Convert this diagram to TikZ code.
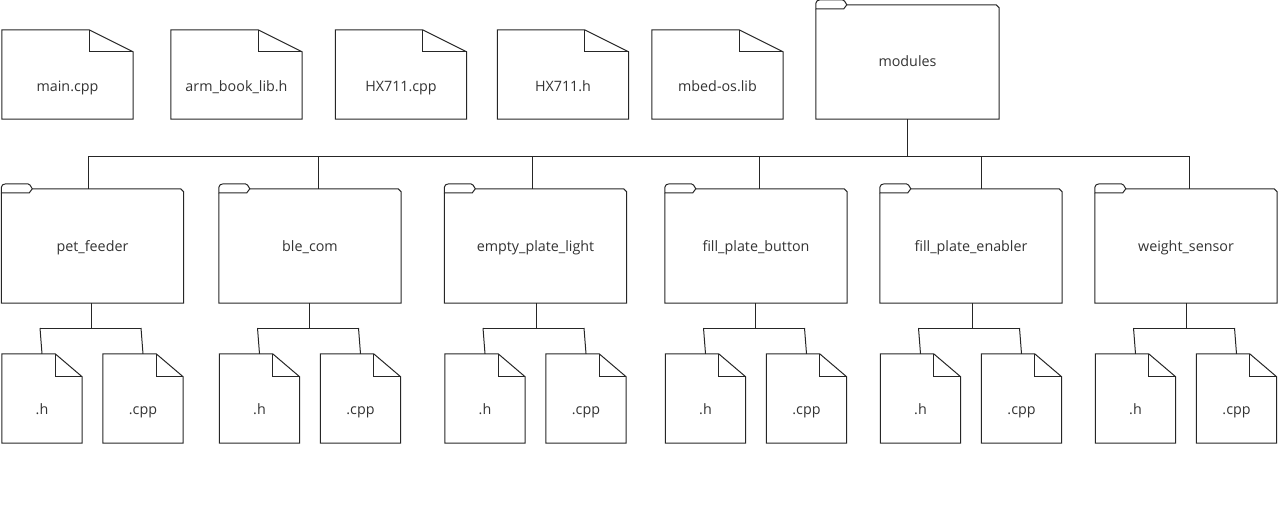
\documentclass[tikz,border=0pt]{standalone}
\usepackage{fontspec}
\setmainfont{Open Sans}
\usetikzlibrary{calc}

% file icon with a folded corner: node, fold width, fold height
\newcommand\drawdoc[3]{%
  \draw[outline] (#1.north west) -- ([xshift=-#2]#1.north east)
    -- ([yshift=-#3]#1.north east) -- (#1.south east) -- (#1.south west) -- cycle;
  \draw[outline] ([xshift=-#2]#1.north east) |- ([yshift=-#3]#1.north east);}

% package folder with a small tab on the top left
\newcommand\drawfolder[1]{%
  \draw[outline, rounded corners=1.5pt]
    ([yshift=-4pt]#1.north west) -- ([yshift=3pt]#1.north west)
    -- ([shift={(3pt,5pt)}]#1.north west) -- ([shift={(28pt,5pt)}]#1.north west)
    [sharp corners]-- ([xshift=31pt]#1.north west)
    -- ([shift={(28pt,-4pt)}]#1.north west) -- cycle;
  \draw[outline] ([xshift=31pt]#1.north west) -- ([xshift=-3pt]#1.north east)
    -- ([yshift=-3pt]#1.north east) -- (#1.south east) -- (#1.south west)
    -- ([yshift=-4pt]#1.north west);}

\tikzset{
  outline/.style={draw=black!85, line width=1pt, line join=miter},
  wire/.style={draw=black!85, line width=1pt},
  bigdoc/.style={minimum width=131pt, minimum height=89pt, inner sep=0pt},
  smalldoc/.style={minimum width=80pt, minimum height=89pt, inner sep=0pt},
  folder/.style={minimum width=182pt, minimum height=114pt, inner sep=0pt},
  caption/.style={font=\fontsize{14.3}{17}\selectfont, text=black!80, inner sep=0pt, anchor=base},
}

\begin{document}
\begin{tikzpicture}[x=1pt, y=-1pt]
\useasboundingbox (0,0) rectangle (1281,512);

% top-level files
\foreach \nm/\cx/\txt in {main/67.5/main.cpp, armlib/236.5/arm\_book\_lib.h,
    hxcpp/401/HX711.cpp, hxh/563/HX711.h, mbed/717.5/mbed-os.lib}{
  \node[bigdoc] (\nm) at (\cx,74.5) {};
  \drawdoc{\nm}{44pt}{22pt}
  \node[caption] (\nm-t) at ([yshift=-16.5pt]\nm.center) {\txt};
}

% modules folder
\node[folder, minimum width=183pt] (modules) at (907.5,62) {};
\drawfolder{modules}
\node[caption] (modules-t) at ([yshift=-4pt]modules.center) {modules};

% bus below modules
\coordinate (busL) at (88,156);
\coordinate (busR) at (1189,156);
\draw[wire] (modules.south) -- (modules.south |- busL);
\draw[wire] (busL) -- (busR);

% module folders, each with a header and a source file
\foreach \nm/\cx/\dx/\bx/\txt in {
    pf/92.5/-4.5/-1.5/pet\_feeder,
    ble/310/8/-0.5/ble\_com,
    epl/535.5/-3.5/0.5/empty\_plate\_light,
    fpb/756/3/-1/fill\_plate\_button,
    fpe/971/10/1.5/fill\_plate\_enabler,
    ws/1186/3/0/weight\_sensor}{
  \node[folder] (\nm) at (\cx,246) {};
  \drawfolder{\nm}
  \node[caption] (\nm-t) at ([yshift=-5pt]\nm.center) {\txt};
  \draw[wire] ([xshift=\dx pt]\nm.north) -- ([xshift=\dx pt]\nm.north |- busL);
  % files
  \node[smalldoc] (\nm-h) at (\cx-50.5,398.5) {};
  \node[smalldoc] (\nm-c) at (\cx+50.5,398.5) {};
  \drawdoc{\nm-h}{27pt}{23pt}
  \drawdoc{\nm-c}{27pt}{23pt}
  \node[caption] (\nm-ht) at ([yshift=-15.5pt]\nm-h.center) {.h};
  \node[caption] (\nm-ct) at ([yshift=-15.5pt]\nm-c.center) {.cpp};
  \coordinate (\nm-b) at (\cx,328);
  \draw[wire] ([xshift=\bx pt]\nm.south) -- ([xshift=\bx pt]\nm.south |- \nm-b);
  \draw[wire] ([xshift=-2pt]\nm-h.north |- \nm-b) -- ([xshift=-2pt]\nm-c.north |- \nm-b);
  \draw[wire] ([xshift=-2pt]\nm-h.north |- \nm-b) -- (\nm-h.north);
  \draw[wire] ([xshift=-2pt]\nm-c.north |- \nm-b) -- (\nm-c.north);
}
\end{tikzpicture}
\end{document}
